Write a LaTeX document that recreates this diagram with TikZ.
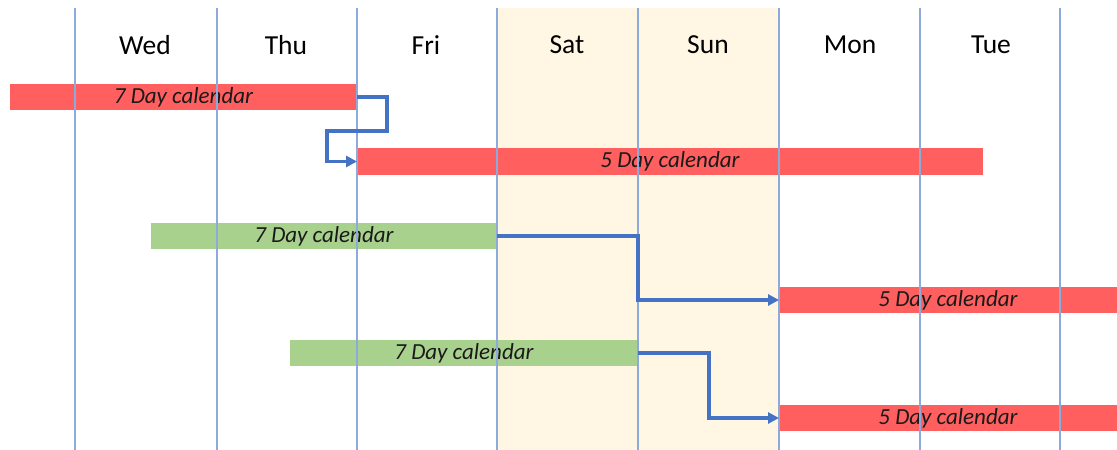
\documentclass[tikz,border=0pt]{standalone}
\usepackage{fontspec}
\setmainfont{Carlito}
\usetikzlibrary{arrows.meta}
\definecolor{barred}{HTML}{FF5F5F}
\definecolor{bargreen}{HTML}{A9D18E}
\definecolor{gridblue}{HTML}{8EA9DB}
\definecolor{connblue}{HTML}{4472C4}
\definecolor{weekend}{HTML}{FFF6E3}
\definecolor{labeltext}{HTML}{1A1A1A}
\tikzset{
  bar/.style={rectangle, inner sep=0pt, outer sep=0pt, minimum height=26.5pt,
    font=\fontsize{23}{26}\selectfont\itshape, text=labeltext},
  redbar/.style={bar, fill=barred},
  greenbar/.style={bar, fill=bargreen},
  dayname/.style={font=\fontsize{27.5}{30}\selectfont, text=black, inner sep=0pt},
  gridline/.style={draw=gridblue, line width=1.6pt},
  conn/.style={draw=connblue, line width=3.2pt, -{Triangle[length=11pt,width=11pt]}}
}
\begin{document}
\begin{tikzpicture}[x=1pt,y=-1pt]
\useasboundingbox (0,0) rectangle (1117,450);
% weekend shading
\fill[weekend] (497,8) rectangle (779,450);
% day names
\node[dayname] (wed) at (145,45) {Wed};
\node[dayname] (thu) at (286,45) {Thu};
\node[dayname] (fri) at (426,45) {Fri};
\node[dayname] (sat) at (567,45) {Sat};
\node[dayname] (sun) at (708,45) {Sun};
\node[dayname] (mon) at (850,45) {Mon};
\node[dayname] (tue) at (991,45) {Tue};
% bars
\node[redbar, minimum width=347pt] (r1) at (183.5,97) {7 Day calendar};
\node[redbar, minimum width=626pt] (r2) at (670,161.5) {5 Day calendar};
\node[greenbar, minimum width=346pt] (g1) at (324,236) {7 Day calendar};
\node[redbar, minimum width=338pt] (r3) at (948,300) {5 Day calendar};
\node[greenbar, minimum width=348pt] (g2) at (464,353) {7 Day calendar};
\node[redbar, minimum width=338pt] (r4) at (948,418) {5 Day calendar};
% grid lines
\foreach \x in {75,217,357,497,638,779,920,1060}
  \draw[gridline] (\x,8) -- (\x,450);
% connectors
\draw[conn] (r1.east) -- ++(30,0) -- ++(0,34) -- ++(-60,0) |- (r2.west);
\draw[conn] (g1.east) -- ++(141,0) |- (r3.west);
\draw[conn] (g2.east) -- ++(71,0) |- (r4.west);
\end{tikzpicture}
\end{document}
